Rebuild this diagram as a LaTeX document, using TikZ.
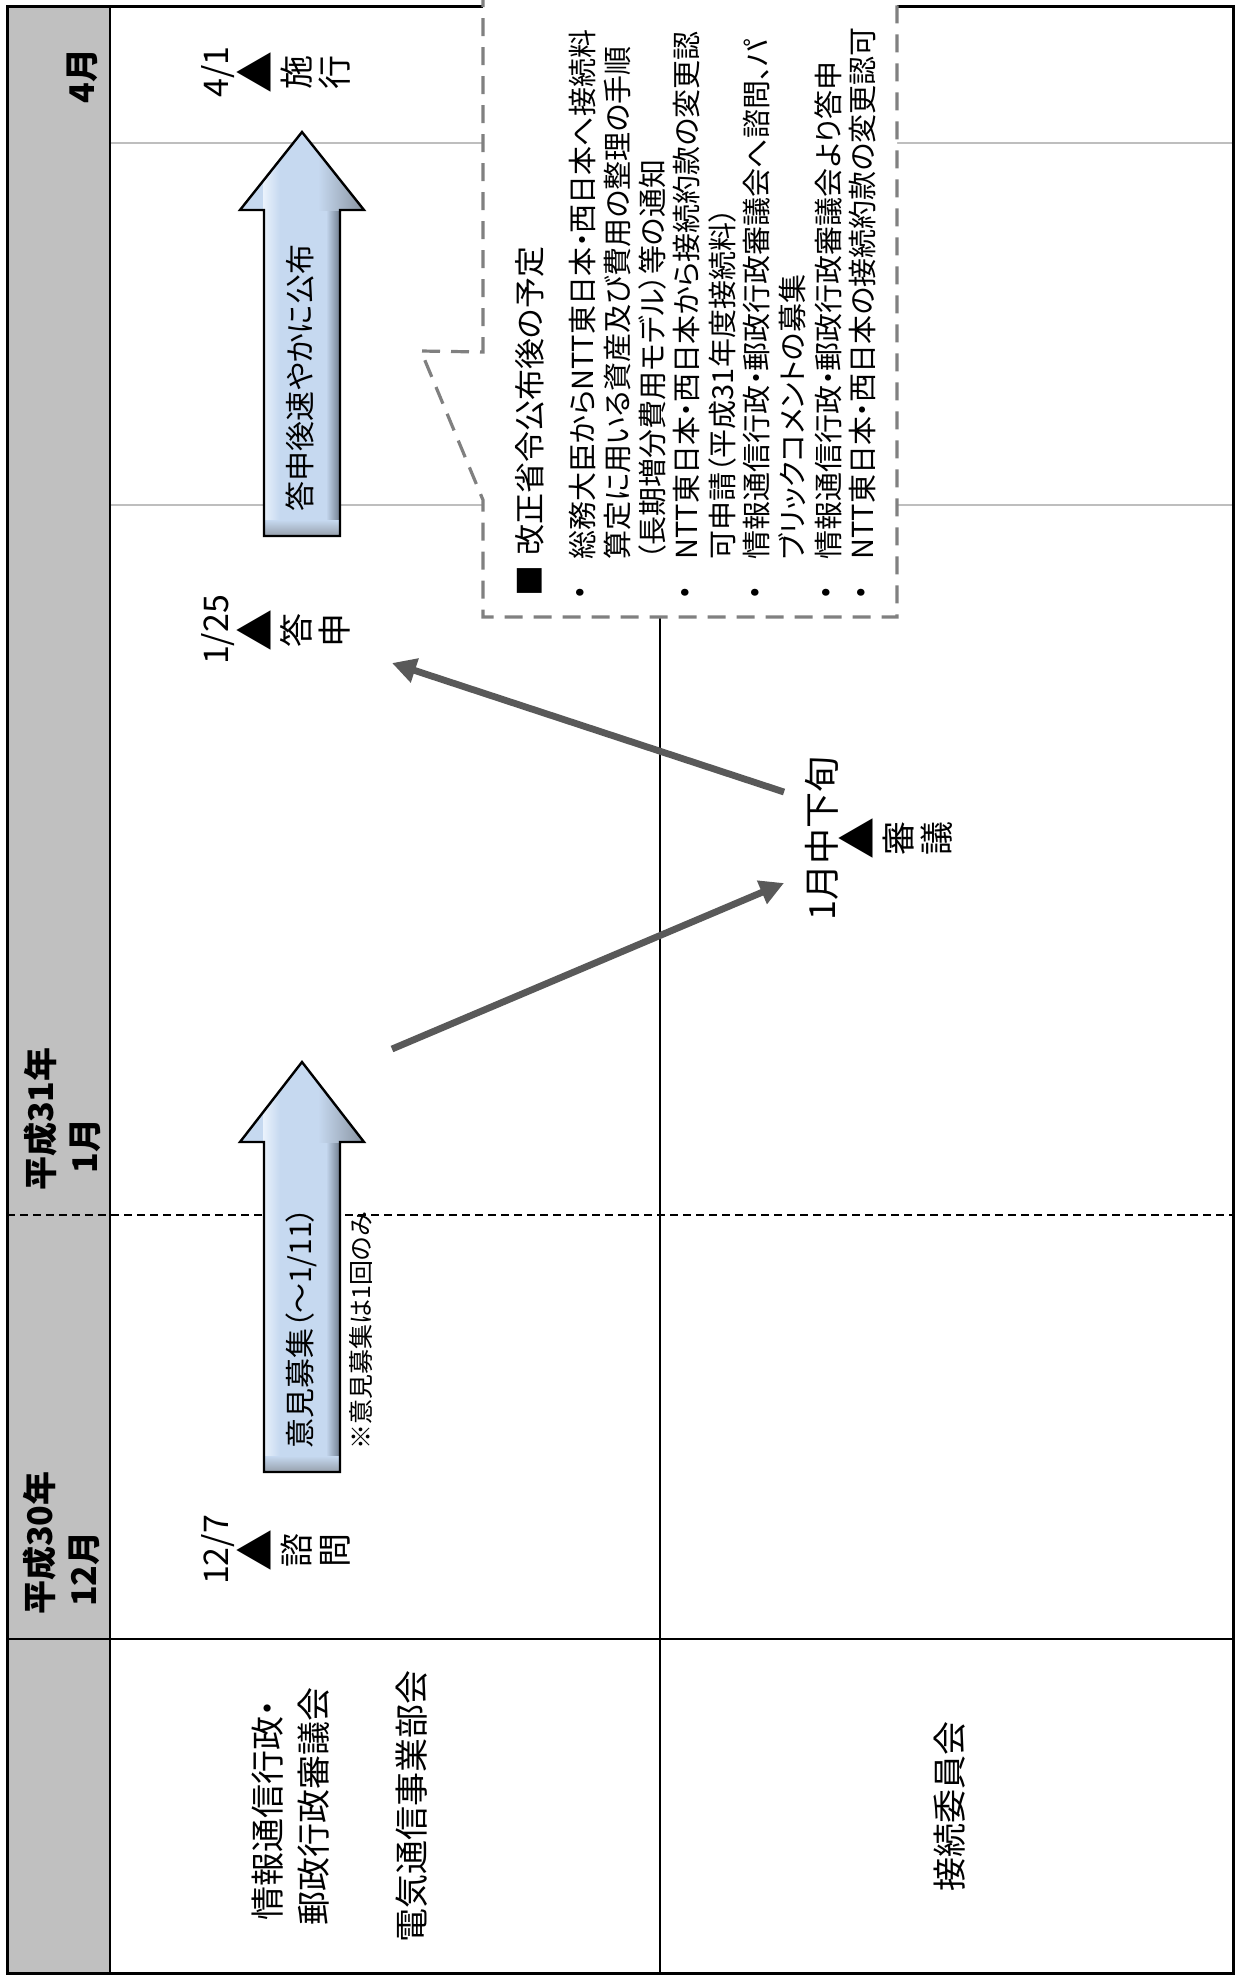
\documentclass[tikz,border=0pt]{standalone}
\usepackage{fontspec}
\setmainfont{Noto Sans CJK JP}[RawFeature=+palt]
\usetikzlibrary{arrows.meta}
\definecolor{hdrgray}{RGB}{192,192,192}
\definecolor{gridgray}{RGB}{190,190,190}
\definecolor{calgray}{RGB}{128,128,128}
\definecolor{arrgray}{RGB}{89,89,89}
\definecolor{blkfill}{RGB}{198,217,240}
\definecolor{blkdark}{RGB}{105,118,135}
\definecolor{blklight}{RGB}{234,242,252}
% fat block arrow: #1 tip y, #2 head base y, #3 tail y
\newcommand{\myblkarrow}[3]{%
  \begin{scope}
    \clip (264,#3) -- (264,#2) -- (240,#2) -- (302,#1) -- (364,#2) -- (340,#2) -- (340,#3) -- cycle;
    \fill[blkfill] (230,#1) rectangle (370,#3);
    \shade[left color=blkfill,right color=blkdark] (326,#2) rectangle (341,#3);
    \shade[left color=blkfill,right color=blkdark!80] (318,#1) rectangle (365,#2);
    \shade[left color=blklight,right color=blkfill] (263,#1) rectangle (280,#3);
    \shade[top color=blkfill,bottom color=blkdark!70] (262,#3-16) rectangle (342,#3);
  \end{scope}
  \draw[line width=1.2pt,line join=miter] (264,#3) -- (264,#2) -- (240,#2) -- (302,#1) -- (364,#2) -- (340,#2) -- (340,#3) -- cycle;
}
\newcommand{\mytri}{{\fontsize{21pt}{19pt}\selectfont ▲}}
\begin{document}
\begin{tikzpicture}[x=0.5pt,y=-0.5pt,
  hdr/.style={rotate=90,inner sep=0pt,font=\fontsize{17pt}{20pt}\selectfont\bfseries},
  ms/.style={rotate=90,inner sep=0pt,align=center,font=\fontsize{17pt}{19pt}\selectfont},
  lane/.style={rotate=90,inner sep=0pt,font=\fontsize{17pt}{20pt}\selectfont},
  arrtxt/.style={rotate=90,inner sep=0pt,font=\fontsize{15pt}{17pt}\selectfont},
  note/.style={rotate=90,inner sep=0pt,font=\fontsize{12.5pt}{14pt}\selectfont},
  calhead/.style={rotate=90,anchor=west,inner sep=0pt,font=\fontsize{15.5pt}{18pt}\selectfont},
  calline/.style={rotate=90,anchor=west,inner sep=0pt,font=\fontsize{14.5pt}{17pt}\selectfont},
  calbul/.style={rotate=90,inner sep=0pt,font=\fontsize{14pt}{17pt}\selectfont},
  conn/.style={draw=arrgray,line width=3.4pt,-{Triangle[length=12pt,width=12pt]}},
  gridline/.style={draw=gridgray,line width=1pt},
  monthline/.style={draw=black,line width=1pt,dash pattern=on 4pt off 2.5pt},
  frame/.style={draw=black,line width=1.4pt},
  callout/.style={draw=calgray,line width=1.6pt,dash pattern=on 9pt off 5.5pt,fill=white}
]
\useasboundingbox (0,0) rectangle (1240,1977);
\fill[white] (0,0) rectangle (1240,1977);

% header column
\fill[hdrgray] (7,6) rectangle (110,1973);

% grid
\draw[gridline] (110,143) -- (1233,143);
\draw[gridline] (110,505) -- (1233,505);
\draw[monthline] (7,1215) -- (1233,1215);
\draw[frame] (660,6) -- (660,1973);
\draw[frame] (7,1639) -- (1233,1639);
\draw[frame] (110,6) -- (110,1973);
\draw[frame,line width=1.5pt] (7,6) rectangle (1233,1973);

% callout box
\path[callout] (483,-40) -- (483,352) -- (421,351) -- (483,500) -- (483,617) -- (897,617) -- (897,-40);

% header texts
\node[hdr] (m4) at (82,76) {4月};
\node[hdr] (y31) at (41,1119) {平成31年};
\node[hdr] (m1) at (85,1146) {1月};
\node[hdr] (y30) at (40,1543) {平成30年};
\node[hdr] (m12) at (84,1569) {12月};

% lane labels
\node[lane] (l1a) at (268,1810) {情報通信行政・};
\node[lane] (l1b) at (314,1806) {郵政行政審議会};
\node[lane] (l1c) at (412,1806) {電気通信事業部会};
\node[lane] (l2) at (950,1806) {接続委員会};

% block arrows
\myblkarrow{132}{210}{536}
\myblkarrow{1062}{1142}{1472}
\node[arrtxt] (t1) at (300,378) {答申後速やかに公布};
\node[arrtxt] (t2) at (301,1328) {意見募集（～1/11）};
\node[note] (t3) at (361,1331) {※意見募集は1回のみ};

% milestones
\node[ms] (ms41) at (276,72) {4/1\\\mytri\\施\\行};
\node[ms] (ms125) at (276,630) {1/25\\\mytri\\答\\申};
\node[ms] (ms127) at (276,1550) {12/7\\\mytri\\諮\\問};
\node[ms] (msjan) at (879,838) {{\fontsize{18pt}{19pt}\selectfont 1月中下旬}\\\mytri\\審\\議};

% callout text
\node[calhead] (ch) at (530,597) {■\hspace{5pt}改正省令公布後の予定};
\node[calbul] (b1) at (582,593) {•};
\node[calbul] (b2) at (687,593) {•};
\node[calbul] (b3) at (757,593) {•};
\node[calbul] (b4) at (828,593) {•};
\node[calbul] (b5) at (863,593) {•};
\node[calline] (c1) at (582,560) {総務大臣からNTT東日本・西日本へ接続料};
\node[calline] (c2) at (617,560) {算定に用いる資産及び費用の整理の手順};
\node[calline] (c3) at (652,560) {（長期増分費用モデル）等の通知};
\node[calline] (c4) at (687,560) {NTT東日本・西日本から接続約款の変更認};
\node[calline] (c5) at (722,560) {可申請（平成31年度接続料）};
\node[calline] (c6) at (757,560) {情報通信行政・郵政行政審議会へ諮問、パ};
\node[calline] (c7) at (792,560) {ブリックコメントの募集};
\node[calline] (c8) at (828,560) {情報通信行政・郵政行政審議会より答申};
\node[calline] (c9) at (863,560) {NTT東日本・西日本の接続約款の変更認可};

% connectors
\coordinate (a1s) at (784,792);
\coordinate (a1e) at (392,663);
\coordinate (a2s) at (392,1049);
\coordinate (a2e) at (784,883);
\draw[conn] (a1s) -- (a1e);
\draw[conn] (a2s) -- (a2e);
\end{tikzpicture}
\end{document}
